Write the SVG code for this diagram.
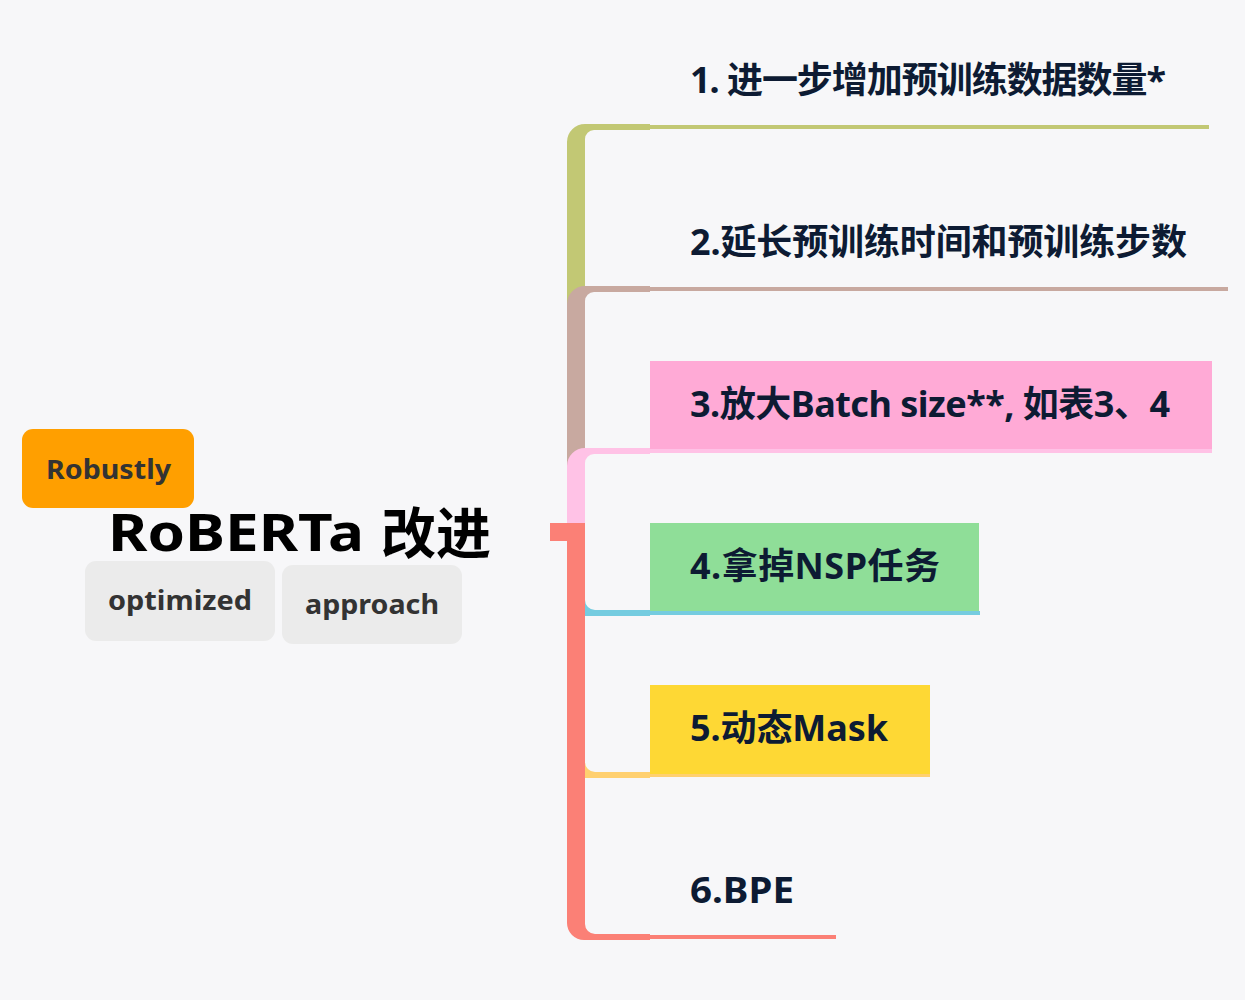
<svg xmlns="http://www.w3.org/2000/svg" width="1245" height="1000" viewBox="0 0 1245 1000">
<style>
.t{font-family:"Noto Sans","Noto Sans CJK SC",sans-serif;font-weight:700;font-size:36px;fill:#0d1b33}
.tag{font-family:"Noto Sans",sans-serif;font-weight:700;font-size:27px;fill:#333333}
.root{font-family:"Noto Sans","Noto Sans CJK SC",sans-serif;font-weight:700;fill:#000000}
.ln{stroke-width:4;fill:none}
</style>
<rect width="1245" height="1000" fill="#f7f7f9"/>
<g id="connectors">
<path d="M567,541 L567,142 A18,18 0 0 1 585,124 L650,124 L650,130 L594,130 A9,9 0 0 0 585,139 L585,541 Z" fill="#c2c874"/>
<path d="M567,541 L567,304 A18,18 0 0 1 585,286 L650,286 L650,292 L594,292 A9,9 0 0 0 585,301 L585,541 Z" fill="#c8a9a0"/>
<path d="M567,541 L567,466 A18,18 0 0 1 585,448 L650,448 L650,454 L594,454 A9,9 0 0 0 585,463 L585,541 Z" fill="#ffc2e6"/>
<path d="M567,523 L585,523 L585,600 A10,10 0 0 0 595,610 L650,610 L650,616 L584,616 A17,17 0 0 1 567,599 Z" fill="#75cce0"/>
<path d="M567,523 L585,523 L585,762 A10,10 0 0 0 595,772 L650,772 L650,778 L584,778 A17,17 0 0 1 567,761 Z" fill="#ffd070"/>
<path d="M550,523 L585,523 L585,924 A10,10 0 0 0 595,934 L650,934 L650,940 L584,940 A17,17 0 0 1 567,923 L567,541 L550,541 Z" fill="#fb8076"/>
<line class="ln" x1="648" y1="127" x2="1209" y2="127" stroke="#c2c874"/>
<line class="ln" x1="648" y1="289" x2="1228" y2="289" stroke="#c8a9a0"/>
<line class="ln" x1="648" y1="451" x2="1212" y2="451" stroke="#ffc2e6"/>
<line class="ln" x1="648" y1="613" x2="980" y2="613" stroke="#75cce0"/>
<line class="ln" x1="648" y1="775" x2="930" y2="775" stroke="#ffd070"/>
<line class="ln" x1="648" y1="937" x2="836" y2="937" stroke="#fb8076"/>
</g>
<g id="root">
<text class="root" x="108" y="551" font-size="52" textLength="256" lengthAdjust="spacingAndGlyphs">RoBERTa</text>
<text class="root" x="381" y="553" font-size="55">改进</text>
</g>
<g id="tag-robustly">
<rect x="22" y="429" width="172" height="79" rx="11" fill="#ff9f00"/>
<text class="tag" x="46" y="479" textLength="125" lengthAdjust="spacingAndGlyphs">Robustly</text>
</g>
<g id="tag-optimized">
<rect x="85" y="561" width="190" height="80" rx="11" fill="#ebebeb"/>
<text class="tag" x="108" y="610" textLength="144" lengthAdjust="spacingAndGlyphs">optimized</text>
</g>
<g id="tag-approach">
<rect x="282" y="565" width="180" height="79" rx="11" fill="#ebebeb"/>
<text class="tag" x="305" y="614" textLength="134" lengthAdjust="spacingAndGlyphs">approach</text>
</g>
<g id="node1">
<text class="t" x="690" y="93" textLength="476">1. 进一步增加预训练数据数量*</text>
</g>
<g id="node2">
<text class="t" x="690" y="255" textLength="497">2.延长预训练时间和预训练步数</text>
</g>
<g id="node3">
<rect x="650" y="361" width="562" height="88" fill="#ffaad6"/>
<text class="t" x="690" y="417" textLength="480">3.放大Batch size**, 如表3、4</text>
</g>
<g id="node4">
<rect x="650" y="523" width="329" height="88" fill="#8fde98"/>
<text class="t" x="690" y="579" textLength="250">4.拿掉NSP任务</text>
</g>
<g id="node5">
<rect x="650" y="685" width="280" height="89" fill="#fed834"/>
<text class="t" x="690" y="741" textLength="198">5.动态Mask</text>
</g>
<g id="node6">
<text class="t" x="690" y="903" textLength="104" lengthAdjust="spacingAndGlyphs">6.BPE</text>
</g>
</svg>
